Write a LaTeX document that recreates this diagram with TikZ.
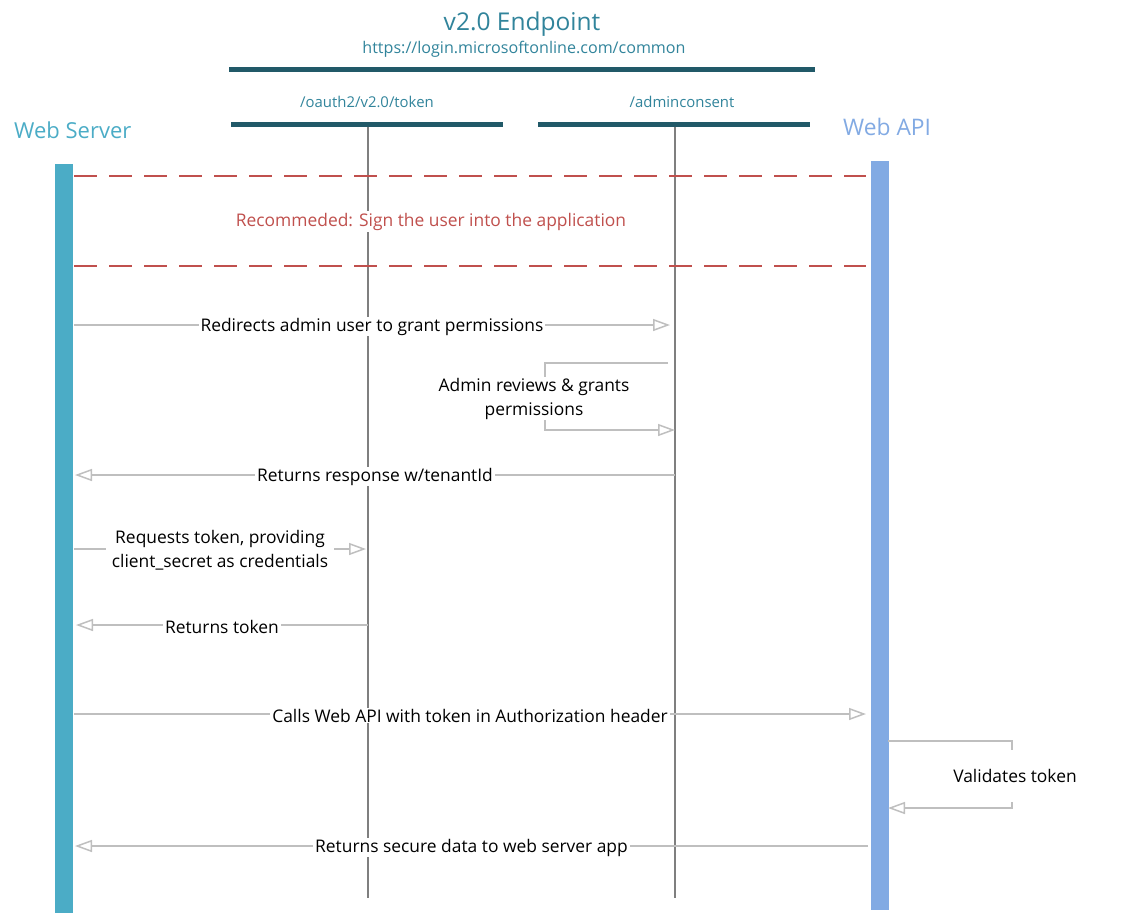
\documentclass[tikz,border=0pt]{standalone}
\usepackage{fontspec}
\setmainfont{Open Sans}
\usetikzlibrary{arrows.meta}
\definecolor{wsblue}{HTML}{4BACC6}
\definecolor{apiblue}{HTML}{82AAE3}
\definecolor{barcol}{HTML}{215968}
\definecolor{titlecol}{HTML}{31849B}
\definecolor{redc}{HTML}{C0504D}
\definecolor{msgcol}{HTML}{BFBFBF}
\definecolor{lifecol}{HTML}{7F7F7F}
\begin{document}
\begin{tikzpicture}[x=1pt,y=-1pt,
  msg/.style={draw=msgcol, line width=1.6pt, -{Triangle[open,length=17pt,width=12pt,line width=1.5pt]}},
  lbl/.style={fill=white, inner xsep=2pt, inner ysep=1pt, font=\fontsize{17.4}{24}\selectfont, align=center, text=black, yshift=-1.5pt},
  life/.style={draw=lifecol, line width=1.6pt},
  epbar/.style={fill=barcol, inner sep=0pt, minimum height=5pt, anchor=north west},
  actbar/.style={inner sep=0pt, minimum width=17.5pt, anchor=north west},
  sepline/.style={draw=redc, line width=2.7pt, dash pattern=on 23pt off 12pt},
  actor/.style={font=\fontsize{22}{26}\selectfont, anchor=west, inner sep=0pt},
]
\useasboundingbox (0,0) rectangle (1125,914);

% header
\node[text=titlecol, font=\fontsize{24.5}{28}\selectfont, inner sep=0pt] (title) at (522,24) {v2.0 Endpoint};
\node[text=titlecol, font=\fontsize{16.1}{19}\selectfont, inner sep=0pt] (url) at (524,49) {https://login.microsoftonline.com/common};
\node[epbar, minimum width=586pt] (topbar) at (229,67) {};
\node[text=titlecol, font=\fontsize{14.9}{18}\selectfont, inner sep=0pt] (toklbl) at (367,102) {/oauth2/v2.0/token};
\node[text=titlecol, font=\fontsize{14.9}{18}\selectfont, inner sep=0pt] (admlbl) at (682,102) {/adminconsent};
\node[epbar, minimum width=272pt] (tokbar) at (231,122) {};
\node[epbar, minimum width=272pt] (admbar) at (538,122) {};

% actors
\node[actor, text=wsblue] (wslbl) at (14,130) {Web Server};
\node[actor, text=apiblue, font=\fontsize{22.8}{26}\selectfont] (apilbl) at (843,127) {Web API};
\node[actbar, fill=wsblue, minimum height=749pt] (ws) at (55,164) {};
\node[actbar, fill=apiblue, minimum height=749pt] (api) at (871,161) {};

% lifelines
\coordinate (tokTop) at (368,127);
\coordinate (tokBot) at (368,898);
\coordinate (admTop) at (675,127);
\coordinate (admBot) at (675,898);
\draw[life] (tokTop) -- (tokBot);
\draw[life] (admTop) -- (admBot);

% recommended section
\coordinate (d1s) at (74,176); \coordinate (d1e) at (866,176);
\coordinate (d2s) at (74,266); \coordinate (d2e) at (866,266);
\draw[sepline] (d1s) -- (d1e);
\draw[sepline] (d2s) -- (d2e);
\node[text=redc, fill=white, inner sep=2pt, font=\fontsize{17.4}{20}\selectfont] (rec) at (431,221.5) {Recommeded: Sign the user into the application};

% message endpoints
\coordinate (m1s) at (74,325);  \coordinate (m1e) at (670,325);
\coordinate (l1a) at (668,363); \coordinate (l1b) at (545,363);
\coordinate (l1c) at (545,430); \coordinate (l1d) at (675,430);
\coordinate (m3s) at (675,475); \coordinate (m3e) at (75,475);
\coordinate (m4s) at (74,549);  \coordinate (m4e) at (366,549);
\coordinate (m5s) at (368,625); \coordinate (m5e) at (76,625);
\coordinate (m6s) at (74,714);  \coordinate (m6e) at (866,714);
\coordinate (l2a) at (888,741); \coordinate (l2b) at (1012,741);
\coordinate (l2c) at (1012,808); \coordinate (l2d) at (888,808);
\coordinate (m8s) at (868,846); \coordinate (m8e) at (75,846);

\draw[msg] (m1s) -- node[lbl] (t1) {Redirects admin user to grant permissions} (m1e);
\draw[msg] (l1a) -- (l1b) -- (l1c) -- (l1d);
\node[lbl] (t2) at (534,397) {Admin reviews \& grants\\permissions};
\draw[msg] (m3s) -- node[lbl] (t3) {Returns response w/tenantId} (m3e);
\draw[msg] (m4s) -- node[lbl, inner xsep=6pt] (t4) {Requests token, providing\\client\_secret as credentials} (m4e);
\draw[msg] (m5s) -- node[lbl] (t5) {Returns token} (m5e);
\draw[msg] (m6s) -- node[lbl] (t6) {Calls Web API with token in Authorization header} (m6e);
\draw[msg] (l2a) -- (l2b) -- (l2c) -- (l2d);
\node[lbl, minimum height=52pt, yshift=0pt] (t7) at (1015,774) {Validates token};
\draw[msg] (m8s) -- node[lbl] (t8) {Returns secure data to web server app} (m8e);
\end{tikzpicture}
\end{document}
